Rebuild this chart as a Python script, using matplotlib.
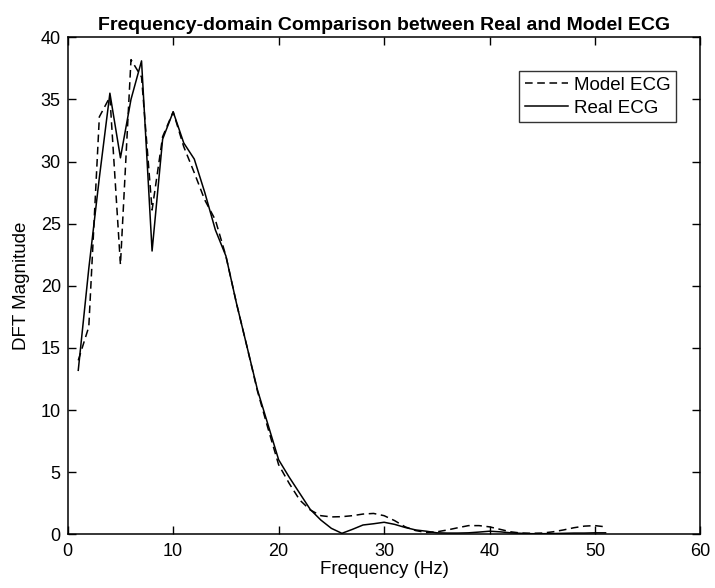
import numpy as np
import matplotlib
matplotlib.use('Agg')
import matplotlib.pyplot as plt

plt.rcParams['font.family'] = ['Liberation Sans', 'DejaVu Sans']

# frequency bins (Hz)
freq = list(range(1, 52))

# real ECG DFT magnitude
real_ecg = [13.2, 21.4, 28.7, 35.5, 30.3, 35.0, 38.1, 22.8, 31.8, 34.0,
            31.5, 30.2, 27.5, 24.5, 22.4, 18.6, 15.1, 11.6, 8.8, 6.0,
            4.6, 3.3, 2.0, 1.15, 0.48, 0.08, 0.4, 0.75, 0.85, 0.97,
            0.8, 0.55, 0.35, 0.25, 0.12, 0.1, 0.1, 0.12, 0.18, 0.25,
            0.2, 0.12, 0.08, 0.05, 0.05, 0.06, 0.08, 0.1, 0.1, 0.12, 0.12]

# model ECG DFT magnitude
model_ecg = [14.0, 16.7, 33.6, 35.2, 21.7, 38.2, 36.8, 26.1, 32.0, 34.0,
             31.2, 29.1, 26.9, 25.3, 22.4, 18.6, 15.1, 11.5, 8.5, 5.6,
             4.1, 2.76, 1.96, 1.5, 1.4, 1.42, 1.5, 1.63, 1.68, 1.5,
             1.1, 0.6, 0.3, 0.15, 0.2, 0.35, 0.53, 0.7, 0.7, 0.6,
             0.4, 0.2, 0.1, 0.08, 0.1, 0.2, 0.35, 0.53, 0.66, 0.7, 0.6]

fig = plt.figure(figsize=(7.15, 5.88), dpi=100)
ax = fig.add_axes([0.0947, 0.0913, 0.885, 0.8453])

ax.plot(freq, model_ecg, color='black', linestyle=(0, (5, 3)), linewidth=1.1, label='Model ECG')
ax.plot(freq, real_ecg, color='black', linestyle='-', linewidth=1.1, label='Real ECG')

ax.set_xlim(0, 60)
ax.set_ylim(0, 40)
ax.set_xticks(np.arange(0, 61, 10))
ax.set_yticks(np.arange(0, 41, 5))
ax.tick_params(direction='in', length=6, width=1, top=True, right=True,
               labelsize=13)
ax.tick_params(axis='x', pad=6)
ax.tick_params(axis='y', pad=5)
for s in ax.spines.values():
    s.set_linewidth(1.1)

ax.set_xlabel('Frequency (Hz)', fontsize=13.5, labelpad=1)
ax.set_ylabel('DFT Magnitude', fontsize=13.5, labelpad=8)
ax.set_title('Frequency-domain Comparison between Real and Model ECG',
             fontsize=14, fontweight='bold', pad=5)

leg = ax.legend(loc='upper right', bbox_to_anchor=(0.961, 0.932), fontsize=13.5,
                frameon=True, fancybox=False, handlelength=2.3,
                handletextpad=0.3, borderpad=0.3, labelspacing=0.3,
                borderaxespad=0)
leg.get_frame().set_edgecolor('black')
leg.get_frame().set_linewidth(1.0)

fig.savefig('out.png', dpi=100)
